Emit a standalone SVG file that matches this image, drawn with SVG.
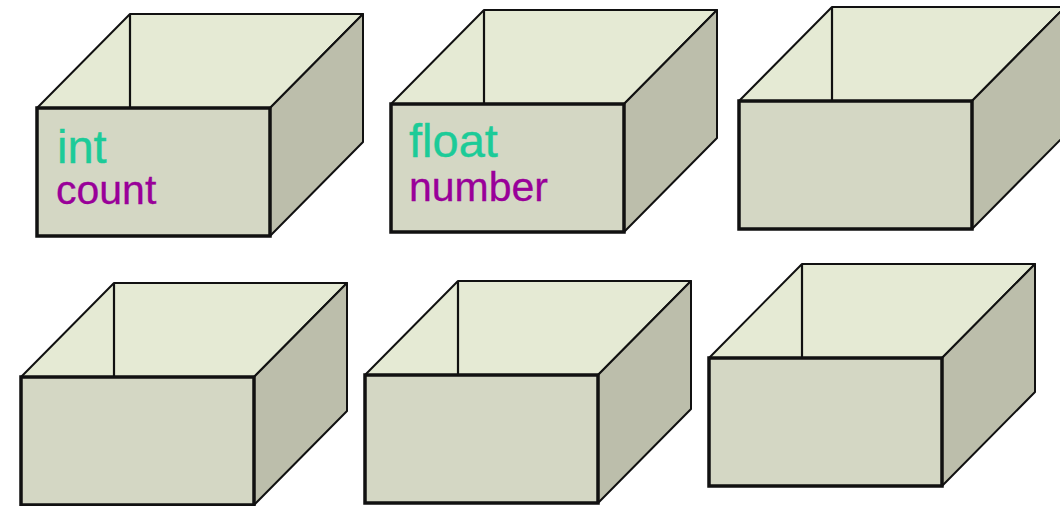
<svg xmlns="http://www.w3.org/2000/svg" xmlns:xlink="http://www.w3.org/1999/xlink" width="1060" height="506" viewBox="0 0 1060 506">
<style>
.inside{fill:#E5EAD4;stroke:#111;stroke-width:2;stroke-linejoin:round}
.side{fill:#BCBEAB;stroke:#111;stroke-width:2;stroke-linejoin:round}
.front{fill:#D4D7C4;stroke:#111;stroke-width:3.5}
.edge{stroke:#111;stroke-width:2.2;fill:none}
.type{font-family:"Liberation Sans",Arial,sans-serif;font-size:47px;fill:#1CCB98;stroke:#1CCB98;stroke-width:0.4}
.name{font-family:"Liberation Sans",Arial,sans-serif;font-size:41px;fill:#990099;stroke:#990099;stroke-width:0.3}
</style>
<defs>
<g id="box">
<polygon class="inside" points="0,0 93,-94 326,-94 233,0"/>
<line class="edge" x1="93" y1="-94" x2="93" y2="0"/>
<polygon class="side" points="233,0 326,-94 326,34 233,128"/>
<rect class="front" x="0" y="0" width="233" height="128"/>
</g>
</defs>
<rect width="1060" height="506" fill="#fff"/>
<g id="box1" transform="translate(37,108)"><use xlink:href="#box" href="#box"/></g>
<g id="box2" transform="translate(391,104)"><use xlink:href="#box" href="#box"/></g>
<g id="box3" transform="translate(739,101)"><use xlink:href="#box" href="#box"/></g>
<g id="box4" transform="translate(21,377)"><use xlink:href="#box" href="#box"/></g>
<g id="box5" transform="translate(365,375)"><use xlink:href="#box" href="#box"/></g>
<g id="box6" transform="translate(709,358)"><use xlink:href="#box" href="#box"/></g>
<g id="labels">
<text class="type" x="57" y="163">int</text>
<text class="name" x="56" y="204">count</text>
<text class="type" x="409" y="157">float</text>
<text class="name" x="409" y="201">number</text>
</g>
<g id="connectors"></g>
</svg>
